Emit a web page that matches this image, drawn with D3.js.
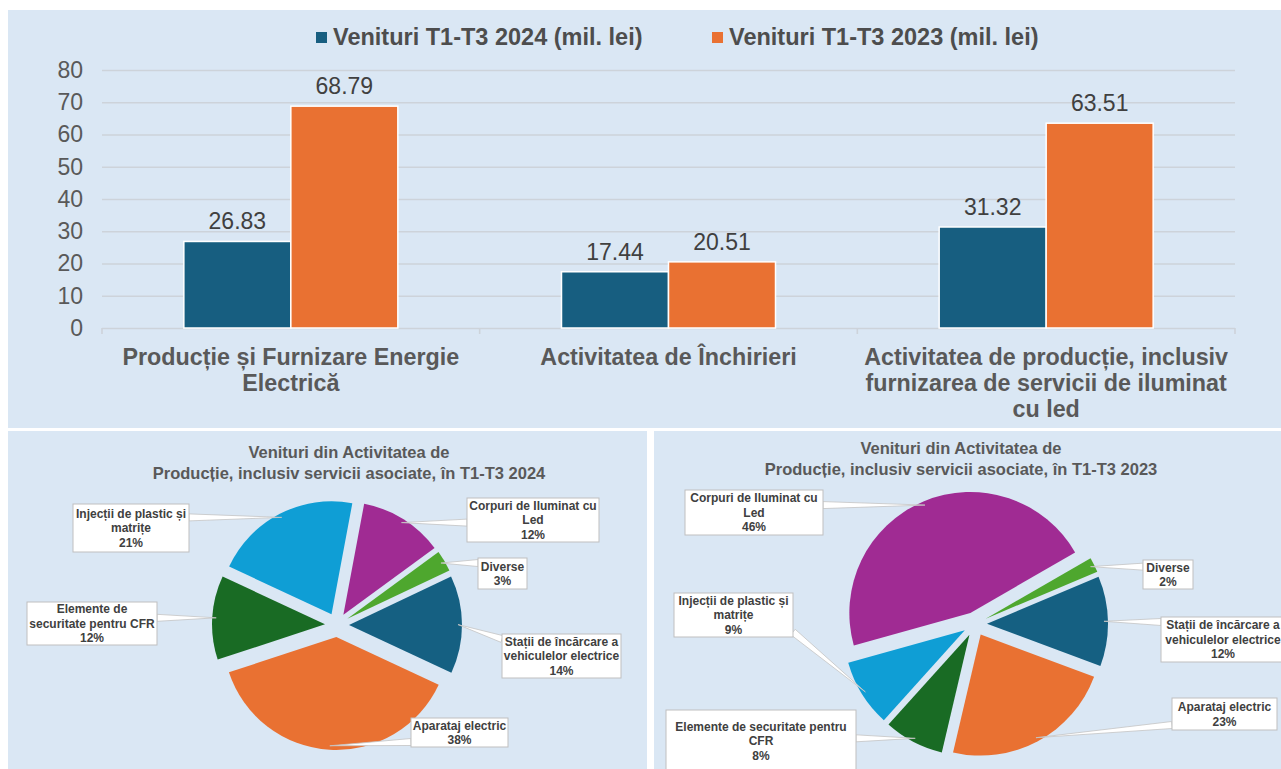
<!DOCTYPE html>
<html>
<head>
<meta charset="utf-8">
<script src="https://cdn.jsdelivr.net/npm/d3@7"></script>
<style>
  body { margin: 0; background: #fff; }
  svg { display: block; }
  text { font-family: "Liberation Sans", Arial, sans-serif; }
</style>
</head>
<body>
<svg id="chart" width="1281" height="769"></svg>
<script>
// ---- data ----
const categories = [
  ["Producție și Furnizare Energie", "Electrică"],
  ["Activitatea de Închirieri"],
  ["Activitatea de producție, inclusiv", "furnizarea de servicii de iluminat", "cu led"]
];
const seriesNames = ["Venituri T1-T3 2024 (mil. lei)", "Venituri T1-T3 2023 (mil. lei)"];
const values2024 = [26.83, 17.44, 31.32];
const values2023 = [68.79, 20.51, 63.51];
const yTicks = [0, 10, 20, 30, 40, 50, 60, 70, 80];

const segments = ["Corpuri de Iluminat cu Led", "Diverse", "Stații de încărcare a vehiculelor electrice",
  "Aparataj electric", "Elemente de securitate pentru CFR", "Injecții de plastic și matrițe"];
const share2024 = [12, 3, 14, 38, 12, 21];
const share2023 = [46, 2, 12, 23, 8, 9];
const lines2024 = [["Corpuri de Iluminat cu", "Led"], ["Diverse"], ["Stații de încărcare a", "vehiculelor electrice"],
  ["Aparataj electric"], ["Elemente de", "securitate pentru CFR"], ["Injecții de plastic și", "matrițe"]];
const lines2023 = [["Corpuri de Iluminat cu", "Led"], ["Diverse"], ["Stații de încărcare a", "vehiculelor electrice"],
  ["Aparataj electric"], ["Elemente de securitate pentru", "CFR"], ["Injecții de plastic și", "matrițe"]];
const pieTitle2024 = ["Venituri din Activitatea de", "Producție, inclusiv servicii asociate, în T1-T3 2024"];
const pieTitle2023 = ["Venituri din Activitatea de", "Producție, inclusiv servicii asociate, în T1-T3 2023"];

// ---- styles ----
const bg = "#dae7f4";
const barColors = ["#175e80", "#e97132"];
const pieColors = ["#a02b93", "#4ea72e", "#156082", "#e97132", "#196b24", "#0f9ed5"];
const greyText = "#595959";
const darkText = "#404040";

const svg = d3.select("#chart");

// panels
const panels = [
  { x: 8, y: 10, w: 1273, h: 418 },
  { x: 8, y: 431, w: 639, h: 338 },
  { x: 654, y: 431, w: 627, h: 338 }
];
svg.selectAll("rect.panel").data(panels).enter().append("rect")
  .attr("class", "panel")
  .attr("x", d => d.x).attr("y", d => d.y)
  .attr("width", d => d.w).attr("height", d => d.h)
  .attr("fill", bg);

// ================= bar chart =================
const plot = { left: 102, right: 1235, top: 70, bottom: 328 };
const x0 = d3.scaleBand().domain(d3.range(categories.length)).range([plot.left, plot.right]).padding(0);
const groupW = 214;
const x1 = d3.scaleBand().domain([0, 1]).range([0, groupW]);
const y = d3.scaleLinear().domain([0, 80]).range([plot.bottom, plot.top]);

const yAxis = d3.axisLeft(y).tickValues(yTicks)
  .tickSize(-(plot.right - plot.left)).tickPadding(19);
const gy = svg.append("g").attr("transform", `translate(${plot.left},0)`).call(yAxis);
gy.select(".domain").remove();
gy.selectAll(".tick line").attr("stroke", "#cdd3da").attr("stroke-width", 1.6);
gy.selectAll(".tick text")
  .attr("fill", greyText).style("font-size", "23px");

// category separator ticks
const edges = d3.range(categories.length).map(i => x0(i)).concat([x0(categories.length - 1) + x0.bandwidth()]);
svg.append("g").selectAll("line").data(edges).enter().append("line")
  .attr("x1", d => d).attr("x2", d => d)
  .attr("y1", plot.bottom).attr("y2", plot.bottom + 6)
  .attr("stroke", "#cdd3da").attr("stroke-width", 1.6);

const series = [values2024, values2023];
const groups = svg.append("g").selectAll("g").data(categories).enter().append("g")
  .attr("transform", (d, i) => `translate(${x0(i) + (x0.bandwidth() - groupW) / 2},0)`);

groups.each(function (c, i) {
  const g = d3.select(this);
  series.forEach((vals, s) => {
    g.append("rect")
      .attr("x", x1(s)).attr("width", x1.bandwidth())
      .attr("y", y(vals[i])).attr("height", y(0) - y(vals[i]))
      .attr("fill", barColors[s])
      .attr("stroke", "#fff").attr("stroke-width", 1.5);
    g.append("text")
      .attr("x", x1(s) + x1.bandwidth() / 2)
      .attr("y", y(vals[i]) - 12)
      .attr("text-anchor", "middle")
      .attr("fill", darkText).style("font-size", "23px")
      .text(vals[i].toFixed(2));
  });
});

// category labels
svg.append("g").selectAll("text").data(categories).enter().append("text")
  .attr("x", (d, i) => x0(i) + x0.bandwidth() / 2)
  .attr("y", 365)
  .attr("text-anchor", "middle")
  .attr("fill", greyText).style("font-size", "23.3px").style("font-weight", "bold")
  .each(function (lines) {
    const t = d3.select(this);
    lines.forEach((l, k) => {
      t.append("tspan").attr("x", t.attr("x")).attr("dy", k === 0 ? 0 : 25.8).text(l);
    });
  });

// legend
const legendPos = [316, 712];
const legend = svg.append("g").selectAll("g").data(seriesNames).enter().append("g")
  .attr("transform", (d, i) => `translate(${legendPos[i]},0)`);
legend.append("rect").attr("x", 0).attr("y", 32).attr("width", 11).attr("height", 11)
  .attr("fill", (d, i) => barColors[i]);
legend.append("text").attr("x", 17).attr("y", 45)
  .attr("fill", "#4d4d4d").style("font-size", "23.5px").style("font-weight", "bold")
  .text(d => d);

// ================= pies =================
const pies = [
  {
    values: share2024, lines: lines2024, title: pieTitle2024,
    cx: 337, cy: 625, r: 113, explode: 12, start: 10.6,
    titleX: 349, titleY: 458,
    boxes: [
      { x: 467, y: 498, w: 132, h: 44 },
      { x: 478, y: 558, w: 49, h: 31 },
      { x: 502, y: 634, w: 119, h: 44 },
      { x: 411, y: 718, w: 97, h: 29 },
      { x: 27, y: 602, w: 130, h: 43 },
      { x: 73, y: 504, w: 116, h: 48 }
    ]
  },
  {
    values: share2023, lines: lines2023, title: pieTitle2023,
    cx: 975, cy: 624, r: 121, explode: 12, start: -105.6,
    titleX: 961, titleY: 454,
    boxes: [
      { x: 685, y: 490, w: 138, h: 45 },
      { x: 1143, y: 560, w: 50, h: 29 },
      { x: 1161, y: 617, w: 124, h: 45 },
      { x: 1172, y: 698, w: 105, h: 32 },
      { x: 666, y: 710, w: 190, h: 62 },
      { x: 674, y: 593, w: 119, h: 44 }
    ]
  }
];

pies.forEach(p => {
  const g = svg.append("g");
  const a0 = p.start * Math.PI / 180;
  const arcs = d3.pie().sort(null).startAngle(a0).endAngle(a0 + 2 * Math.PI)(p.values);
  const arc = d3.arc().innerRadius(0).outerRadius(p.r);

  // title
  g.append("text")
    .attr("x", p.titleX).attr("y", p.titleY)
    .attr("text-anchor", "middle")
    .attr("fill", greyText).style("font-size", "16.5px").style("font-weight", "bold")
    .selectAll("tspan").data(p.title).enter().append("tspan")
    .attr("x", p.titleX).attr("dy", (d, k) => k === 0 ? 0 : 20.5).text(d => d);

  const dir = a => [Math.sin(a), -Math.cos(a)];

  g.selectAll("path.slice").data(arcs).enter().append("path")
    .attr("class", "slice")
    .attr("transform", d => {
      const m = (d.startAngle + d.endAngle) / 2, v = dir(m);
      return `translate(${p.cx + v[0] * p.explode},${p.cy + v[1] * p.explode})`;
    })
    .attr("d", arc)
    .attr("fill", (d, i) => pieColors[i]);

  // callouts
  arcs.forEach((d, i) => {
    const m = (d.startAngle + d.endAngle) / 2, v = dir(m);
    const ax = p.cx + v[0] * (p.explode + p.r - 4);
    const ay = p.cy + v[1] * (p.explode + p.r - 4);
    const b = p.boxes[i];
    const bx = Math.max(b.x, Math.min(b.x + b.w, ax));
    const by = Math.max(b.y + 5, Math.min(b.y + b.h - 5, ay));
    const len = Math.hypot(bx - ax, by - ay) || 1;
    const nx = -(by - ay) / len * 3.5, ny = (bx - ax) / len * 3.5;
    g.append("path")
      .attr("d", `M${ax},${ay}L${bx + nx},${by + ny}L${bx - nx},${by - ny}Z`)
      .attr("fill", "#fff").attr("stroke", "#c4c4c4").attr("stroke-width", 0.8);
    g.append("rect")
      .attr("x", b.x).attr("y", b.y).attr("width", b.w).attr("height", b.h)
      .attr("fill", "#fff").attr("stroke", "#bfbfbf").attr("stroke-width", 1);
    const lines = p.lines[i].concat([p.values[i] + "%"]);
    const cyBox = b.y + b.h / 2;
    g.append("text")
      .attr("text-anchor", "middle")
      .attr("fill", darkText).style("font-size", "12px").style("font-weight", "bold")
      .selectAll("tspan").data(lines).enter().append("tspan")
      .attr("x", b.x + b.w / 2)
      .attr("y", (t, k) => cyBox + (k - (lines.length - 1) / 2) * 14.5 + 4.3)
      .text(t => t);
  });
});
</script>
</body>
</html>
